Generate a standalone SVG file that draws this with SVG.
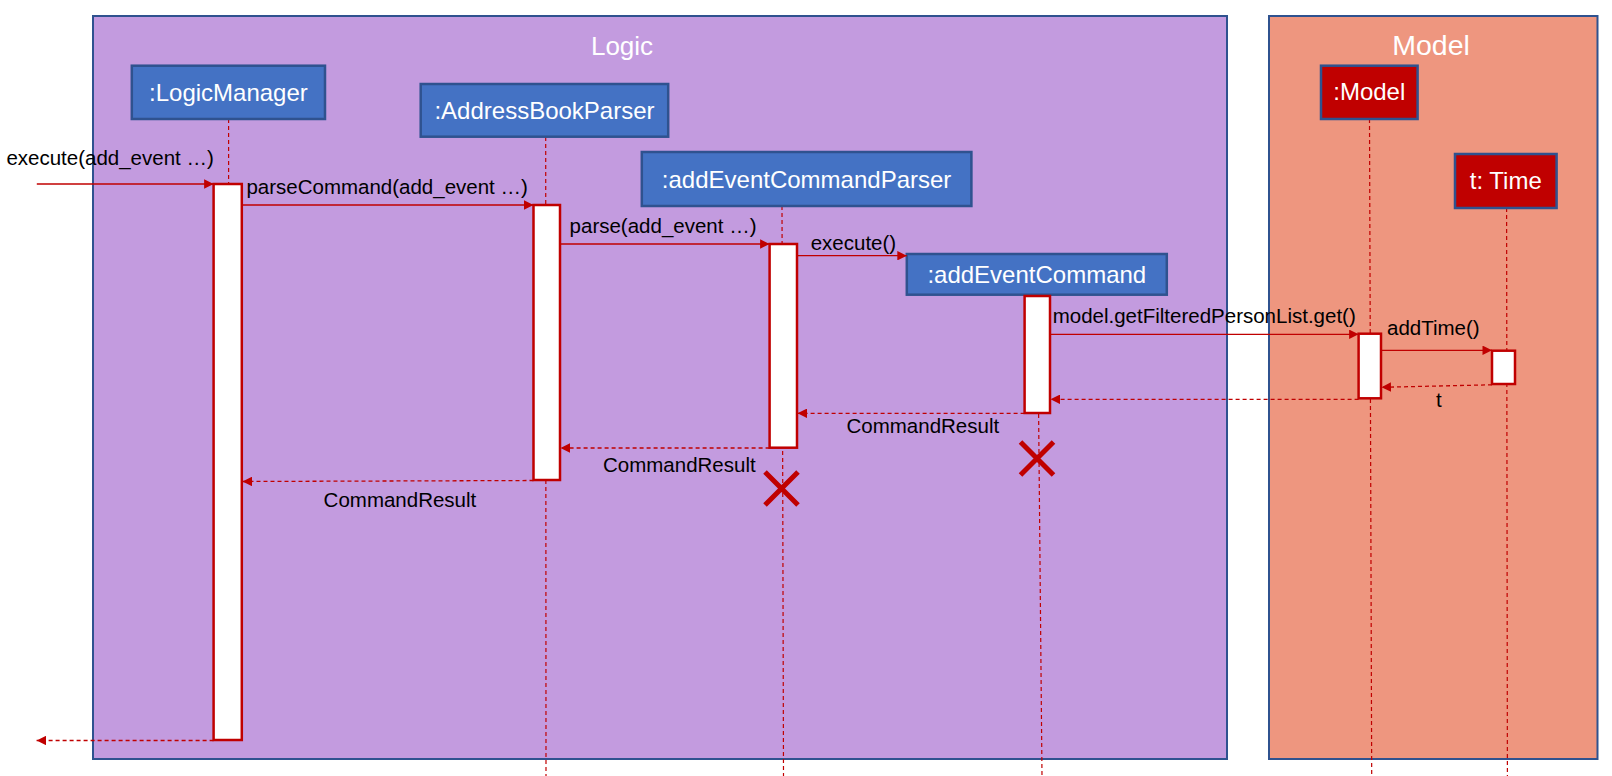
<svg xmlns="http://www.w3.org/2000/svg" width="1612" height="776" viewBox="0 0 1612 776">
<defs>
<style>
.frame{stroke:#2F528F;stroke-width:2}
.title{font-family:"Liberation Sans",Arial,sans-serif;fill:#FFFFFF;text-anchor:middle}
.obj{stroke:#2F528F;stroke-width:2.5}
.blue{fill:#4472C4}
.red{fill:#C00000}
.otxt{font-family:"Liberation Sans",Arial,sans-serif;font-size:24px;fill:#FFFFFF;text-anchor:middle}
.life{stroke:#C00000;stroke-width:1.2;stroke-dasharray:4 3;fill:none}
.act{fill:#FFFFFF;stroke:#C00000;stroke-width:2.5}
.call{stroke:#C00000;stroke-width:1.3;fill:none;marker-end:url(#head)}
.ret{stroke:#C00000;stroke-width:1.3;stroke-dasharray:4 3;fill:none;marker-end:url(#head)}
.msg{font-family:"Liberation Sans",Arial,sans-serif;font-size:20.5px;fill:#000000}
.kill{stroke:#C00000;stroke-width:5;fill:none}
</style>
<marker id="head" viewBox="0 0 10 10" refX="10" refY="5" markerWidth="10" markerHeight="9.5" markerUnits="userSpaceOnUse" orient="auto">
<path d="M0,0 L10,5 L0,10 Z" fill="#C00000"/>
</marker>
</defs>
<rect width="1612" height="776" fill="#FFFFFF"/>

<g id="frame-logic">
<rect class="frame" x="93" y="16" width="1134" height="743" fill="#C39BDF"/>
<text class="title" x="622" y="55" font-size="26">Logic</text>
</g>
<g id="frame-model">
<rect class="frame" x="1269" y="16" width="328.5" height="743" fill="#EE967F"/>
<text class="title" x="1431" y="55" font-size="28.5">Model</text>
</g>

<g id="lifelines">
<line class="life" x1="228.6" y1="119" x2="228.6" y2="184"/>
<line class="life" x1="545.7" y1="137" x2="546" y2="776"/>
<line class="life" x1="782" y1="206" x2="783.5" y2="776"/>
<line class="life" x1="1037.5" y1="295" x2="1042" y2="776"/>
<line class="life" x1="1369.5" y1="119" x2="1371.7" y2="776"/>
<line class="life" x1="1506.6" y1="208" x2="1507.4" y2="776"/>
</g>

<g id="node-logicmanager">
<rect class="obj blue" x="131.8" y="65.7" width="193.2" height="53.3"/>
<text class="otxt" x="228.4" y="100.9">:LogicManager</text>
</g>
<g id="node-addressbookparser">
<rect class="obj blue" x="420.7" y="84" width="247.5" height="52.7"/>
<text class="otxt" x="544.5" y="118.8">:AddressBookParser</text>
</g>
<g id="node-addeventcommandparser">
<rect class="obj blue" x="641.8" y="152" width="329.6" height="54"/>
<text class="otxt" x="806.6" y="187.5">:addEventCommandParser</text>
</g>
<g id="node-addeventcommand">
<rect class="obj blue" x="906.8" y="254" width="260" height="40.7"/>
<text class="otxt" x="1036.8" y="282.6">:addEventCommand</text>
</g>
<g id="node-model">
<rect class="obj red" x="1321" y="65.7" width="96.6" height="53.3"/>
<text class="otxt" x="1369.3" y="100.2" font-size="21.5">:Model</text>
</g>
<g id="node-time">
<rect class="obj red" x="1455" y="154" width="101.6" height="54"/>
<text class="otxt" x="1505.8" y="188.8" font-size="21.5">t: Time</text>
</g>

<g id="activations">
<rect class="act" x="213.6" y="184" width="28.2" height="556"/>
<rect class="act" x="533.5" y="205" width="26.5" height="275"/>
<rect class="act" x="769.6" y="244" width="27.4" height="203.7"/>
<rect class="act" x="1024.6" y="296" width="25.4" height="117"/>
<rect class="act" x="1358.6" y="333.7" width="22.4" height="64.6"/>
<rect class="act" x="1492" y="350.7" width="23" height="33.3"/>
</g>

<g id="connectors">
<line class="call" x1="36.8" y1="184" x2="213.6" y2="184"/>
<line class="call" x1="242" y1="205" x2="533.5" y2="205"/>
<line class="call" x1="560" y1="244" x2="769.6" y2="244"/>
<line class="call" x1="797" y1="255.7" x2="906.8" y2="255.7"/>
<line class="call" x1="1050" y1="334.3" x2="1358.6" y2="334.3"/>
<line class="call" x1="1381" y1="350.3" x2="1492" y2="350.3"/>
<line class="ret" x1="1492" y1="384.8" x2="1381.5" y2="387.3"/>
<line class="ret" x1="1358.6" y1="399.3" x2="1050.5" y2="399.3"/>
<line class="ret" x1="1024.6" y1="413.3" x2="797.5" y2="413.3"/>
<line class="ret" x1="769.6" y1="448" x2="560.5" y2="448"/>
<line class="ret" x1="533.5" y1="480.5" x2="242.5" y2="481.5"/>
<line class="ret" x1="213.6" y1="740.5" x2="36.6" y2="740.5"/>
<path class="kill" d="M765,472 L798,505 M798,472 L765,505"/>
<path class="kill" d="M1020.5,442 L1053.5,475 M1053.5,442 L1020.5,475"/>
</g>

<g id="labels">
<text class="msg" x="6.4" y="165">execute(add_event …)</text>
<text class="msg" x="246.4" y="194">parseCommand(add_event …)</text>
<text class="msg" x="569.6" y="233">parse(add_event …)</text>
<text class="msg" x="810.7" y="250">execute()</text>
<text class="msg" x="1052.7" y="322.7">model.getFilteredPersonList.get()</text>
<text class="msg" x="1387" y="335">addTime()</text>
<text class="msg" x="1436" y="407">t</text>
<text class="msg" x="846.5" y="433.3">CommandResult</text>
<text class="msg" x="603" y="471.7">CommandResult</text>
<text class="msg" x="323.6" y="506.7">CommandResult</text>
</g>
</svg>
